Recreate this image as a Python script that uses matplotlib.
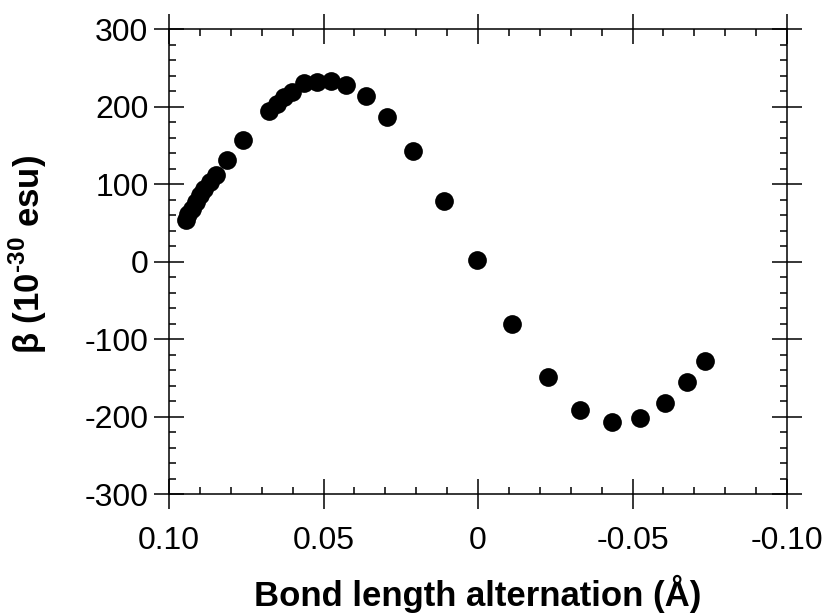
# Hyperpolarizability beta vs bond length alternation
import numpy as np
import matplotlib
matplotlib.use('Agg')
import matplotlib.pyplot as plt
from matplotlib.ticker import MultipleLocator

plt.rcParams['font.family'] = 'Liberation Sans'
plt.rcParams['mathtext.fontset'] = 'custom'
plt.rcParams['mathtext.rm'] = 'Liberation Sans:bold'
plt.rcParams['mathtext.bf'] = 'Liberation Sans:bold'

bla = [0.0946, 0.0938, 0.0925, 0.0912, 0.0900, 0.0887, 0.0867, 0.0849,
       0.0811, 0.0760, 0.0676, 0.0650, 0.0627, 0.0601, 0.0562, 0.0520,
       0.0476, 0.0426, 0.0362, 0.0293, 0.0209, 0.0109, 0.0003, -0.0111,
       -0.0226, -0.0331, -0.0432, -0.0524, -0.0605, -0.0675, -0.0734]
beta = [54, 61, 68, 77, 86, 94, 103, 112,
        131, 157, 194, 203, 212, 219, 230, 232,
        233, 228, 214, 187, 143, 78, 2, -80,
        -149, -192, -207, -202, -182, -156, -128]

xticks = [0.10, 0.05, 0, -0.05, -0.10]
xticklabels = ['0.10', '0.05', '0', '-0.05', '-0.10']
yticks = [-300, -200, -100, 0, 100, 200, 300]
yticklabels = ['-300', '-200', '-100', '0', '100', '200', '300']

fig = plt.figure(figsize=(8.33, 6.15), dpi=100)
ax = fig.add_axes([0.2029, 0.1967, 0.7419, 0.7561])

ax.plot(bla, beta, 'o', color='black', markersize=13.5, markeredgewidth=0)

ax.set_xlim(0.10, -0.10)
ax.set_ylim(-300, 300)
ax.set_xticks(xticks)
ax.set_xticklabels(xticklabels)
ax.set_yticks(yticks)
ax.set_yticklabels(yticklabels)
ax.xaxis.set_minor_locator(MultipleLocator(0.01))
ax.yaxis.set_minor_locator(MultipleLocator(20))

ax.tick_params(which='major', direction='inout', length=21.5, width=1.1,
               top=True, right=True, labelsize=23)
ax.tick_params(which='minor', direction='in', length=5, width=1.1,
               top=True, right=True)
ax.tick_params(axis='x', which='major', pad=12)
ax.tick_params(axis='y', which='major', pad=4)
for s in ax.spines.values():
    s.set_linewidth(1.1)

ax.set_xlabel('Bond length alternation (\u00c5)', fontsize=25,
              fontweight='bold', labelpad=14)
ax.set_ylabel('\u03b2 (10$^{\\text{-30}}$ esu)', fontsize=25,
              fontweight='bold')
ax.yaxis.set_label_coords(-0.195, 0.515)

fig.savefig('out.png', dpi=100)
